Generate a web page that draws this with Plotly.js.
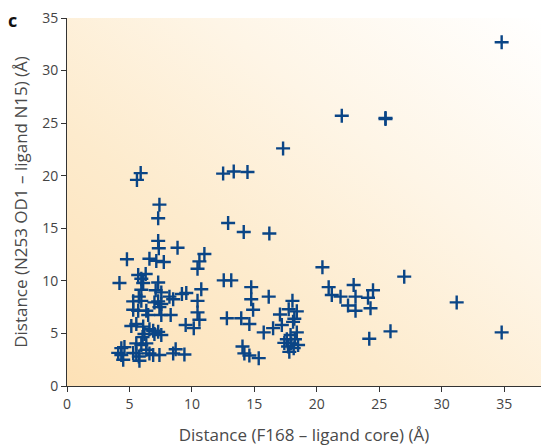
<!DOCTYPE html>
<html>
<head>
<meta charset="utf-8">
<script src="https://cdn.plot.ly/plotly-3.0.1.min.js"></script>
<style>
html,body{margin:0;padding:0;background:#fff;}
#wrap{position:relative;width:541px;height:446px;overflow:hidden;}
#bg{position:absolute;left:67px;top:18px;width:474px;height:368px;
 background:linear-gradient(to top right,#fde1b6 0%,#fdebcd 35%,#fef5e6 65%,#ffffff 100%);}
#chart{position:absolute;left:0;top:0;width:541px;height:446px;}
</style>
</head>
<body>
<div id="wrap"><div id="bg"></div><div id="chart"></div></div>
<script>
const xValues = [34.8,22.0,25.5,25.5,17.3,20.45,27.0,20.95,22.95,21.2,21.9,23.1,24.5,24.1,22.5,23.1,24.3,31.2,25.9,24.2,34.8,
16.15,18.05,17.75,18.4,17.05,18.2,18.1,17.2,16.5,15.75,18.4,17.9,17.6,18.25,17.4,17.95,18.5,17.7,18.15,17.8,
12.55,13.15,14.75,10.75,14.75,14.9,10.6,12.8,13.95,14.6,14.05,14.2,14.6,15.35,
12.5,13.35,14.45,12.9,14.15,16.2,11.0,10.6,
5.9,5.6,7.4,7.3,7.3,7.35,8.85,4.8,6.6,7.15,7.75,
10.45,5.7,6.3,5.95,6.1,4.2,7.3,5.95,7.1,7.55,9.2,9.55,5.75,8.2,8.5,5.3,5.95,7.0,7.3,7.55,7.4,10.45,
5.3,5.7,6.35,6.5,7.55,8.3,10.45,
9.5,10.15,5.15,5.55,6.1,6.6,6.9,7.3,7.0,7.55,6.2,6.05,5.55,5.95,6.35,4.35,4.6,4.1,4.35,4.5,5.3,5.55,5.75,5.8,6.35,6.6,6.9,7.4,8.5,8.7,9.4];
const yValues = [32.7,25.7,25.4,25.5,22.6,11.3,10.4,9.4,9.6,8.65,8.5,8.5,9.1,8.4,7.65,7.15,7.4,7.95,5.2,4.5,5.1,
8.5,8.1,7.3,7.1,6.8,6.4,6.1,5.8,5.5,5.1,5.1,4.85,4.45,4.45,4.1,4.05,3.9,3.75,3.6,3.25,
10.05,10.05,9.4,9.2,8.25,7.25,6.3,6.45,6.45,5.9,3.75,3.1,2.9,2.65,
20.2,20.4,20.35,15.5,14.65,14.5,12.55,11.85,
20.25,19.6,17.25,15.95,13.8,13.1,13.15,12.05,12.1,11.9,11.8,
11.15,10.55,10.65,10.2,9.8,9.8,9.85,9.15,9.1,8.9,8.75,8.85,8.5,8.5,8.25,8.05,8.1,7.95,8.05,7.8,7.5,8.1,
7.25,7.15,7.15,6.75,6.75,6.75,7.0,
5.8,5.5,5.7,5.9,5.65,5.4,5.25,5.15,4.95,4.85,4.95,4.65,4.05,3.9,4.05,3.6,3.7,3.15,2.95,2.5,3.15,3.1,2.8,2.4,3.45,3.1,2.95,2.95,3.1,3.5,3.0];
const xTicks = [0,5,10,15,20,25,30,35];
const yTicks = [0,5,10,15,20,25,30,35];
const xTitle = 'Distance (F168 – ligand core) (Å)';
const yTitle = 'Distance (N253 OD1 – ligand N15) (Å)';
const panelLabel = 'c';

const fontFam = '"Open Sans", "Noto Sans", sans-serif';
const trace = {
  x: xValues, y: yValues, type: 'scatter', mode: 'markers',
  marker: {symbol: 'cross-thin', size: 10, color: '#0a4586', line: {color: '#0a4586', width: 2.4}},
  hoverinfo: 'skip', cliponaxis: false
};
const axisCommon = {
  showgrid: false, zeroline: false, showline: true, linecolor: '#333', linewidth: 1,
  ticks: 'outside', ticklen: 5, tickcolor: '#333', tickwidth: 1,
  tickfont: {family: fontFam, size: 14, color: '#444'}, fixedrange: true
};
const layout = {
  width: 541, height: 446,
  margin: {l: 67, r: 0, t: 18, b: 60},
  paper_bgcolor: 'rgba(0,0,0,0)', plot_bgcolor: 'rgba(0,0,0,0)',
  showlegend: false,
  xaxis: Object.assign({}, axisCommon, {range: [0, 37.95], tickvals: xTicks, ticktext: xTicks.map(String),
    title: {text: xTitle, font: {family: fontFam, size: 17, color: '#4a4a4a'}, standoff: 19}}),
  yaxis: Object.assign({}, axisCommon, {range: [0, 35], tickvals: yTicks, ticktext: yTicks.map(String),
    title: {text: yTitle, font: {family: fontFam, size: 17, color: '#4a4a4a'}, standoff: 10}}),
  annotations: [{text: '<b>' + panelLabel + '</b>', xref: 'paper', yref: 'paper', x: -0.11, y: 1.0,
    xanchor: 'center', yanchor: 'middle', showarrow: false, font: {family: fontFam, size: 18, color: '#111'}, xshift: -2, yshift: -2}]
};
Plotly.newPlot('chart', [trace], layout, {displayModeBar: false, staticPlot: true});
</script>
</body>
</html>
